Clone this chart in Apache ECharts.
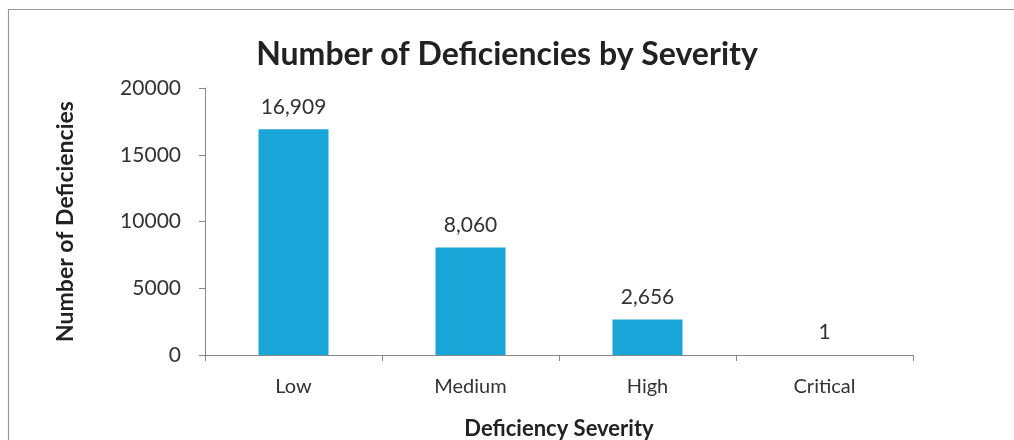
<!DOCTYPE html>
<html><head><meta charset="utf-8">
<script src="https://cdn.jsdelivr.net/npm/echarts@6/dist/echarts.min.js"></script>
<style>html,body{margin:0;padding:0;background:#fff}#c{width:1014px;height:440px}</style>
</head><body><div id="c"></div>
<script>
const categories = ['Low', 'Medium', 'High', 'Critical'];
const values = [16909, 8060, 2656, 1];
const yTicks = [0, 5000, 10000, 15000, 20000];

const font = 'Lato, "Open Sans", sans-serif';
const chart = echarts.init(document.getElementById('c'));
chart.setOption({
  animation: false,
  backgroundColor: '#fff',
  title: {
    text: 'Number of Deficiencies by Severity',
    left: 'center', top: 34,
    textStyle: { fontFamily: font, fontWeight: 'bold', fontSize: 32, color: '#222' }
  },
  graphic: [{
    type: 'rect', shape: { x: 8.5, y: 9.5, width: 1100, height: 440 },
    style: { fill: 'none', stroke: '#999', lineWidth: 1.2 }
  }],
  grid: { left: 205, right: 101, top: 88, bottom: 85, outerBoundsMode: 'none' },
  xAxis: {
    type: 'category', data: categories,
    name: 'Deficiency Severity', nameLocation: 'middle', nameGap: 63,
    nameTextStyle: { fontFamily: font, fontWeight: 'bold', fontSize: 22, color: '#222' },
    axisLine: { lineStyle: { color: '#888' } },
    axisTick: { show: true, alignWithLabel: false, length: 6, lineStyle: { color: '#888' } },
    axisLabel: { fontFamily: font, fontSize: 20, color: '#333', margin: 22 }
  },
  yAxis: {
    type: 'value', min: 0, max: 20000, interval: 5000,
    name: 'Number of Deficiencies', nameLocation: 'middle', nameGap: 128, nameRotate: 90,
    nameTextStyle: { fontFamily: font, fontWeight: 'bold', fontSize: 23, color: '#222' },
    axisLine: { show: true, lineStyle: { color: '#888' } },
    axisTick: { show: true, length: 6, lineStyle: { color: '#888' } },
    splitLine: { show: false },
    axisLabel: { fontFamily: font, fontSize: 21, color: '#333', margin: 24,
      formatter: v => yTicks.includes(v) ? String(v) : '' }
  },
  series: [{
    type: 'bar', data: values, barWidth: 70,
    itemStyle: { color: '#1AA5D8' },
    label: { show: true, position: 'top', distance: 12, fontFamily: font, fontSize: 21, color: '#333',
      formatter: p => p.value.toLocaleString('en-US') }
  }]
});
</script></body></html>
